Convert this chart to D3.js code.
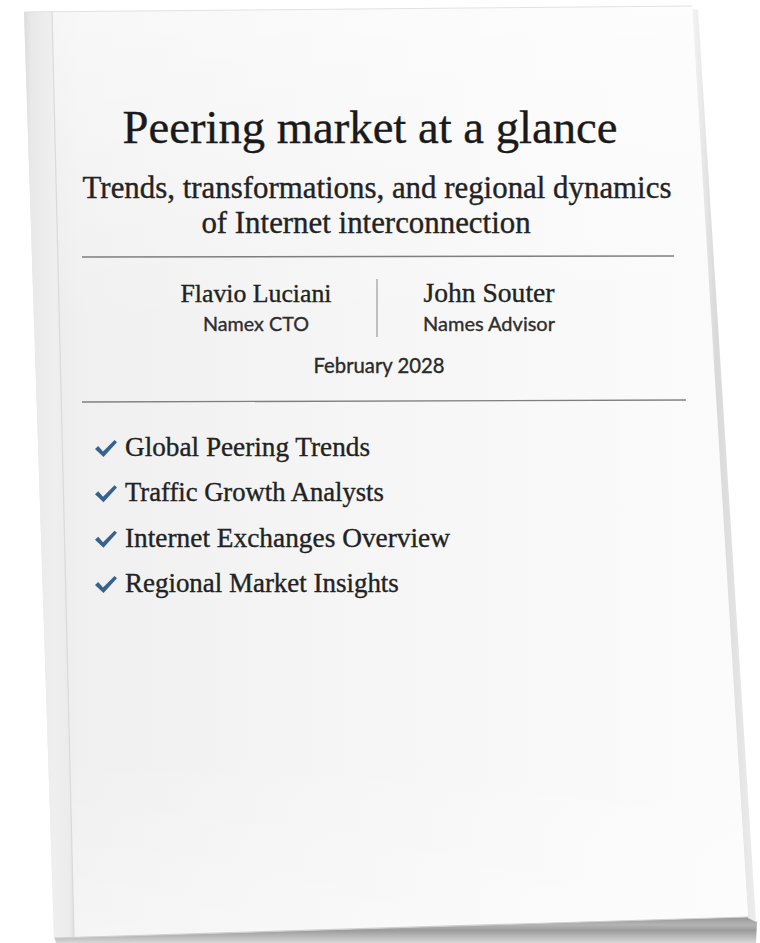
<!DOCTYPE html>
<html>
<head>
<meta charset="utf-8">
<script src="https://cdn.jsdelivr.net/npm/d3@7"></script>
<style>
  html, body { margin: 0; padding: 0; background: #ffffff; }
  svg { display: block; }
</style>
</head>
<body>
<svg id="cover" width="760" height="943"></svg>
<script>
// ---- content (text data) ----
const titleText = "Peering market at a glance";
const subtitleLines = ["Trends, transformations, and regional dynamics", "of Internet interconnection"];
const authorNames = ["Flavio Luciani", "John Souter"];
const authorRoles = ["Namex CTO", "Names Advisor"];
const dateText = "February 2028";
const checklistItems = ["Global Peering Trends", "Traffic Growth Analysts", "Internet Exchanges Overview", "Regional Market Insights"];

const W = 760, H = 943;
const svg = d3.select("#cover");
const defs = svg.append("defs");

// gradients
const gCover = defs.append("linearGradient").attr("id", "gCover")
  .attr("x1", "0").attr("y1", "0").attr("x2", "1").attr("y2", "0");
[[0, "#e8e8e8"], [0.08, "#f0f0f0"], [0.35, "#f4f4f4"], [0.75, "#f9f9f9"], [1, "#fbfbfb"]]
  .forEach(([o, c]) => gCover.append("stop").attr("offset", o).attr("stop-color", c));

const gTop = defs.append("linearGradient").attr("id", "gTop")
  .attr("x1", "0").attr("y1", "0").attr("x2", "0").attr("y2", "1");
[[0, "#ffffff", 0.55], [0.35, "#ffffff", 0.0], [0.8, "#ffffff", 0.0], [1, "#ffffff", 0.35]]
  .forEach(([o, c, a]) => gTop.append("stop").attr("offset", o).attr("stop-color", c).attr("stop-opacity", a));

const gSpine = defs.append("linearGradient").attr("id", "gSpine")
  .attr("x1", "0").attr("y1", "0").attr("x2", "1").attr("y2", "0");
[[0, "#dcdcdc"], [0.15, "#e9e9e9"], [0.6, "#efefef"], [0.92, "#ebebeb"], [1, "#dddddd"]]
  .forEach(([o, c]) => gSpine.append("stop").attr("offset", o).attr("stop-color", c));

const gRight = defs.append("linearGradient").attr("id", "gRight")
  .attr("x1", "0").attr("y1", "0").attr("x2", "1").attr("y2", "0");
[[0, "#f6f6f6"], [0.4, "#d9d9d9"], [1, "#ededed"]]
  .forEach(([o, c]) => gRight.append("stop").attr("offset", o).attr("stop-color", c));

const gPages = defs.append("linearGradient").attr("id", "gPages")
  .attr("x1", "0").attr("y1", "0").attr("x2", "0").attr("y2", "1");
[[0, "#8f8f8f"], [0.35, "#b4b4b4"], [0.55, "#9c9c9c"], [0.8, "#bdbdbd"], [1, "#d8d8d8"]]
  .forEach(([o, c]) => gPages.append("stop").attr("offset", o).attr("stop-color", c));

const line = d3.line();

// page block under the cover (bottom edge)
svg.append("path")
  .attr("d", line([[54, 936], [748, 915], [757, 922], [756, 943], [56, 943]]) + "Z")
  .attr("fill", "url(#gPages)");

// right page edge
svg.append("path")
  .attr("d", line([[690, 8], [698, 10], [756, 922], [748, 918]]) + "Z")
  .attr("fill", "url(#gRight)");

// cover face
const cover = [[24, 12], [692, 6], [748, 917], [54, 938]];
svg.append("path").attr("d", line(cover) + "Z").attr("fill", "url(#gCover)");
svg.append("path").attr("d", line(cover) + "Z").attr("fill", "url(#gTop)");

// spine strip
svg.append("path")
  .attr("d", line([[24, 12], [52, 11], [74, 937], [54, 938]]) + "Z")
  .attr("fill", "url(#gSpine)");
svg.append("path")
  .attr("d", line([[52, 11], [74, 937]]))
  .attr("stroke", "#dadada").attr("stroke-width", 1.2).attr("fill", "none");

// faint outline of cover
svg.append("path")
  .attr("d", line([[24, 12], [692, 6]]))
  .attr("stroke", "#e2e2e2").attr("stroke-width", 1).attr("fill", "none");
svg.append("path")
  .attr("d", line([[54, 938], [748, 917]]))
  .attr("stroke", "#cfcfcf").attr("stroke-width", 1.2).attr("fill", "none");

// ---- text helpers ----
const serif = "'Liberation Serif', 'Times New Roman', serif";
const sans = "Lato, 'Open Sans', sans-serif";

function fitText(sel, targetWidth) {
  const w = sel.node().getComputedTextLength();
  const fs = parseFloat(sel.attr("font-size"));
  sel.attr("font-size", (fs * targetWidth / w).toFixed(2));
  return sel;
}

function addText(txt, x, y, fs, family, anchor, color, weight) {
  return svg.append("text")
    .attr("x", x).attr("y", y)
    .attr("font-family", family)
    .attr("font-size", fs)
    .attr("font-weight", weight || "normal")
    .attr("text-anchor", anchor)
    .attr("fill", color)
    .attr("stroke", color)
    .attr("stroke-width", 0.35)
    .text(txt);
}

// title
fitText(addText(titleText, 370, 143, 42, serif, "middle", "#1a1a1a"), 495);

// subtitle
const sub1 = fitText(addText(subtitleLines[0], 377, 198, 24, serif, "middle", "#232323"), 589);
addText(subtitleLines[1], 366, 233, sub1.attr("font-size"), serif, "middle", "#232323");

// rules
svg.append("line").attr("x1", 82).attr("y1", 257).attr("x2", 674).attr("y2", 256)
  .attr("stroke", "#7f7f7f").attr("stroke-width", 1.4);
svg.append("line").attr("x1", 82).attr("y1", 402).attr("x2", 686).attr("y2", 400)
  .attr("stroke", "#7f7f7f").attr("stroke-width", 1.4);

// authors
const authorX = d3.scalePoint().domain(authorNames).range([256, 489]);
const nameWidths = [151, 131];
const roleWidths = [106, 132];
authorNames.forEach((n, i) => {
  fitText(addText(n, authorX(n), 302, 21, serif, "middle", "#222"), nameWidths[i]);
  fitText(addText(authorRoles[i], authorX(n), 331, 15, sans, "middle", "#2e2e2e"), roleWidths[i]);
});
svg.append("line").attr("x1", 377).attr("y1", 279).attr("x2", 377).attr("y2", 337)
  .attr("stroke", "#9a9a9a").attr("stroke-width", 1.2);

// date
fitText(addText(dateText, 379, 373, 16, sans, "middle", "#2a2a2a"), 131);

// checklist
const itemY = d3.scalePoint().domain(checklistItems).range([456, 592]);
const itemEnds = [370, 384, 450, 399];
const checkPath = d3.line()([[0, 9], [3.2, 6], [8, 11.5], [19.5, 0], [22, 2.2], [8.5, 17]]) + "Z";
checklistItems.forEach((it, i) => {
  const y = itemY(it);
  svg.append("path")
    .attr("d", checkPath)
    .attr("transform", `translate(95,${y - 16})`)
    .attr("fill", "#35628f");
  fitText(addText(it, 125, y, 22, serif, "start", "#222"), itemEnds[i] - 125);
});
</script>
</body>
</html>
